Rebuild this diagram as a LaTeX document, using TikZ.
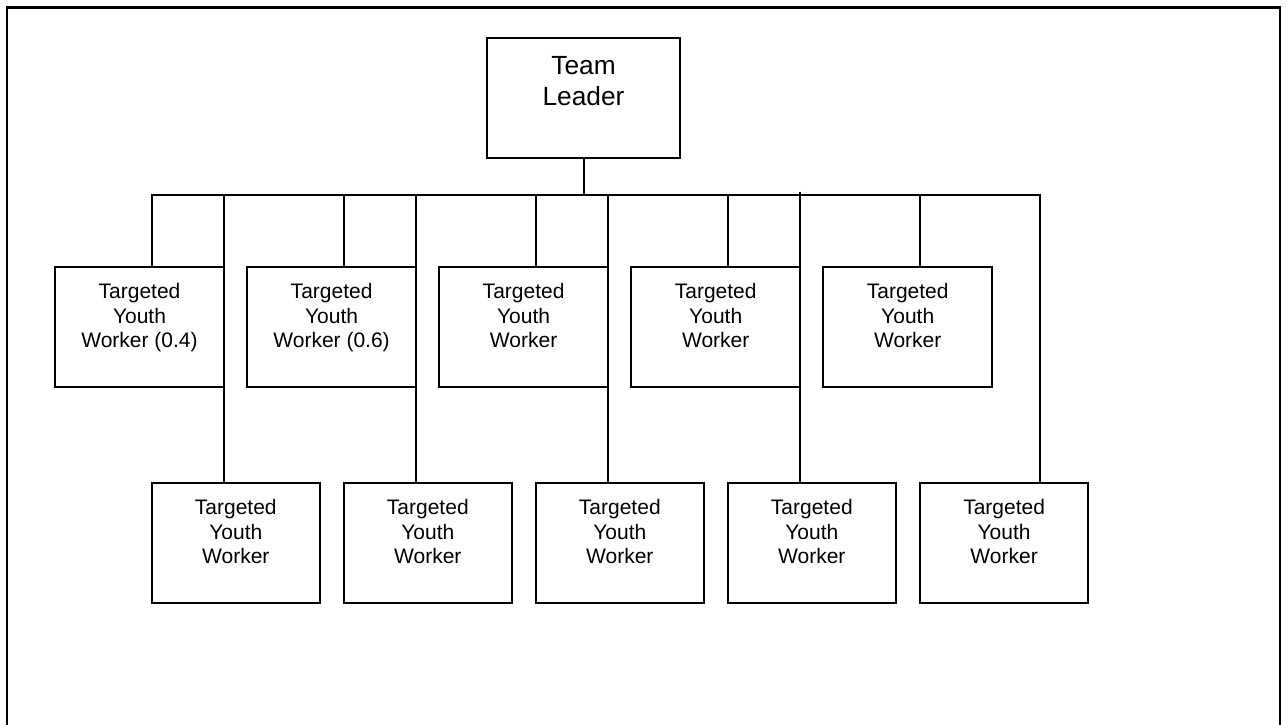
\documentclass[tikz,border=0pt]{standalone}
\usepackage{fontspec}
\setmainfont{Liberation Sans}
\begin{document}
\begin{tikzpicture}[x=1pt,y=-1pt,line width=2pt,
  wire/.style={draw,line width=2pt},
  leadbox/.style={draw,line width=2pt,minimum width=193pt,minimum height=120pt,inner sep=0pt,
    label={[anchor=north,yshift=-18.5pt,inner sep=0pt,align=center,
      font=\fontsize{26.3}{31}\selectfont]north:#1}},
  postbox/.style={draw,line width=2pt,minimum width=168.5pt,minimum height=120pt,inner sep=0pt,
    label={[anchor=north,yshift=-16.3pt,inner sep=0pt,align=center,
      font=\fontsize{21}{24.5}\selectfont]north:#1}}]
\useasboundingbox (0,0) rectangle (1287,725);

% page frame, open at the bottom
\draw[line width=2.5pt] (7,740) -- (7,7.5) -- (1280,7.5) -- (1280,740);

% team leader
\node[leadbox={Team\\Leader}] (tl) at (583.5,98) {};

% first row of workers
\node[postbox={Targeted\\Youth\\Worker (0.4)}] (t1) at (139.5,327) {};
\node[postbox={Targeted\\Youth\\Worker (0.6)}] (t2) at (331.6,327) {};
\node[postbox={Targeted\\Youth\\Worker}] (t3) at (523.6,327) {};
\node[postbox={Targeted\\Youth\\Worker}] (t4) at (715.7,327) {};
\node[postbox={Targeted\\Youth\\Worker}] (t5) at (907.7,327) {};

% second row of workers
\node[postbox={Targeted\\Youth\\Worker}] (b1) at (235.8,543.3) {};
\node[postbox={Targeted\\Youth\\Worker}] (b2) at (427.8,543.3) {};
\node[postbox={Targeted\\Youth\\Worker}] (b3) at (619.8,543.3) {};
\node[postbox={Targeted\\Youth\\Worker}] (b4) at (811.8,543.3) {};
\node[postbox={Targeted\\Youth\\Worker}] (b5) at (1004.1,543.3) {};

% distribution bus
\coordinate (busL) at (151.7,195);
\coordinate (busR) at (1040,195);

\draw[wire] (tl.south) -- (tl.south |- busL);
\draw[wire] (busL |- t1.north) -- (busL) -- (busR) -- (busR |- b5.north);

% drops to the first row
\foreach \n in {2,3,4,5}
  \draw[wire] ([xshift=12pt]t\n.north) -- ([xshift=12pt]t\n.north |- busL);

% long drops to the second row
\draw[wire] (223.5,195) -- (223.5,0 |- b1.north);
\draw[wire] (415.7,195) -- (415.7,0 |- b2.north);
\draw[wire] (607.7,195) -- (607.7,0 |- b3.north);
\draw[wire] (799.7,191.5) -- (799.7,0 |- b4.north);
\end{tikzpicture}
\end{document}
